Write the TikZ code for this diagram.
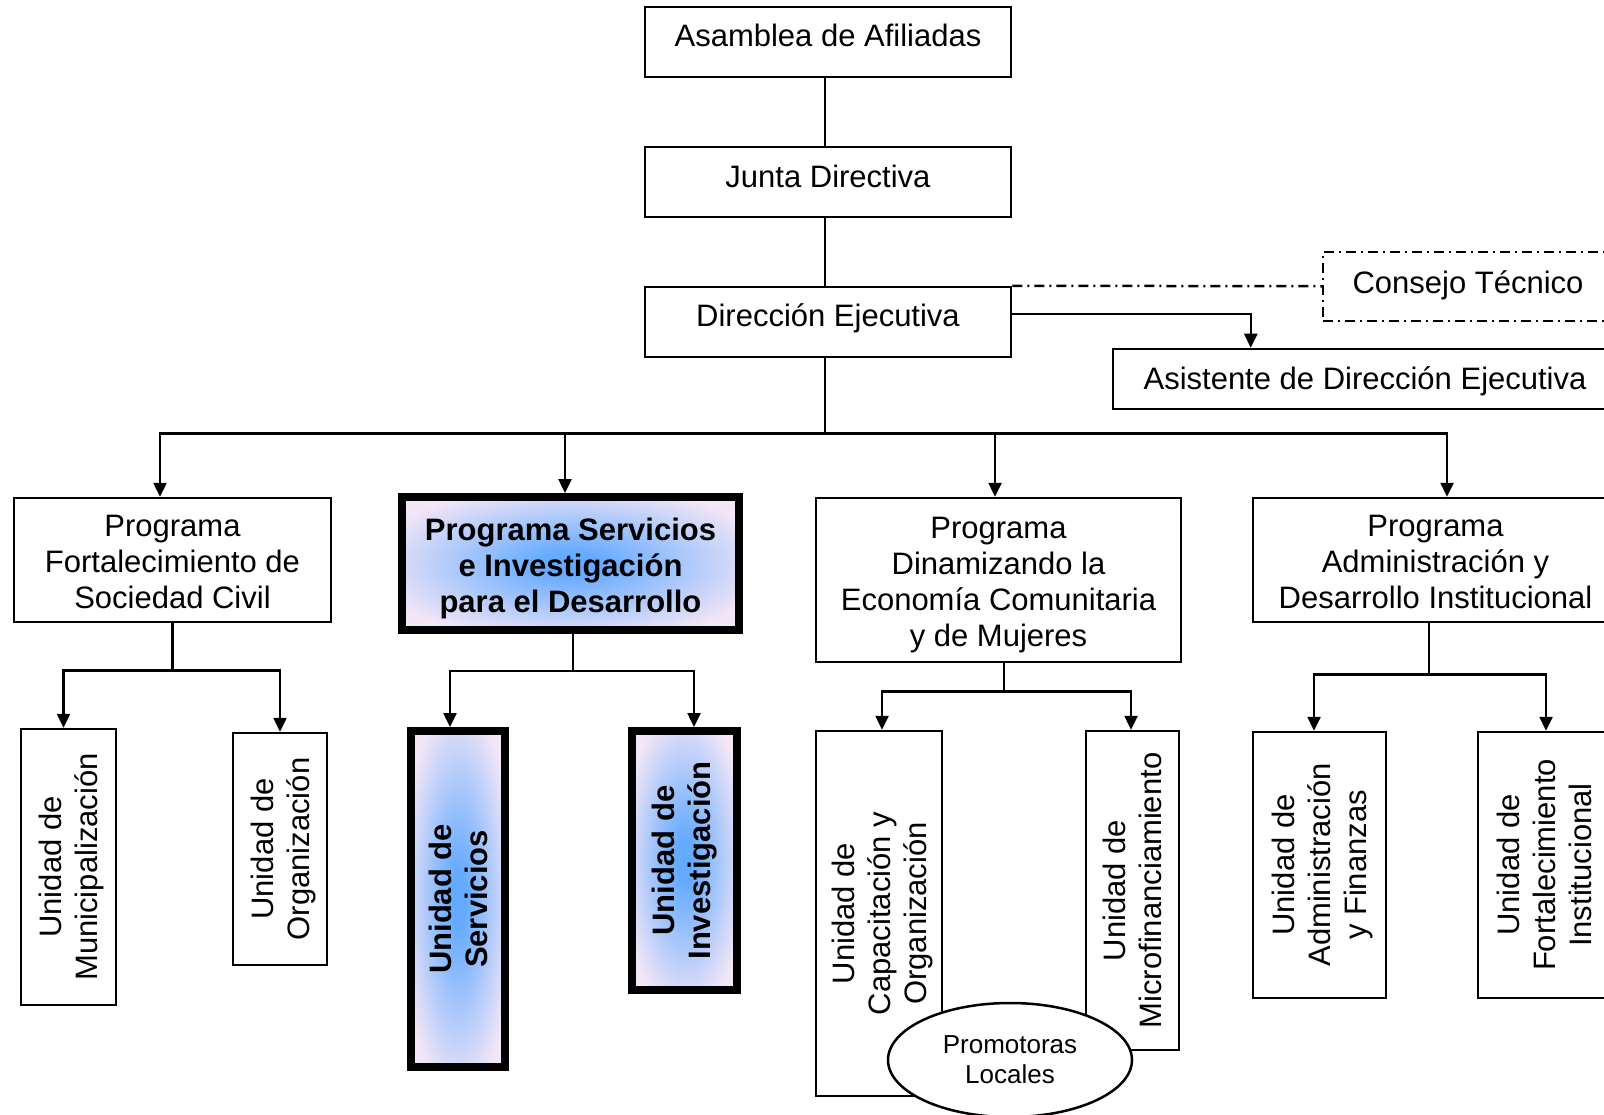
\documentclass[tikz,border=0pt]{standalone}
\usepackage{fontspec}
\setmainfont{Liberation Sans}
\usepackage{xcolor}
\usepackage{tikz}
\usetikzlibrary{arrows.meta}
\usetikzlibrary{shapes.geometric}
\definecolor{azulcentro}{RGB}{100,170,255}
\definecolor{lila}{RGB}{243,230,246}
\pgfdeclareradialshading{desdecentro}{\pgfpoint{0bp}{0bp}}{color(0bp)=(azulcentro); color(4bp)=(azulcentro); color(30bp)=(lila); color(50bp)=(lila)}
\newcommand{\lineas}[2][-5.5pt]{\raisebox{#1}[\height][\depth]{\begin{tabular}{@{}c@{}}#2\end{tabular}}}
\newcommand{\textovertical}[2][-4pt]{\rotatebox{90}{\lineas[#1]{#2}}}

\begin{document}
\begin{tikzpicture}[x=1pt, y=-1pt, every node/.style={font=\fontsize{31}{36}\selectfont, inner sep=0pt}, caja/.style={draw, line width=2.5pt, fill=white}, resaltada/.style={draw, line width=8pt, shading=desdecentro, font=\fontsize{31}{36}\selectfont\bfseries}, flecha/.style={line width=2.5pt, -{Triangle[length=14pt,width=13pt]}}, linea/.style={line width=2.5pt}, rayapunto/.style={dash pattern=on 10pt off 5pt on 2pt off 5pt}]
	\path[use as bounding box, clip] (0,0) rectangle (1604,1115);
	\node[caja, minimum width=366pt, minimum height=70pt](asam) at (828,42){\lineas[3pt]{Asamblea de Afiliadas}};
	\node[caja, minimum width=366pt, minimum height=70pt](junta) at (828,182){\lineas[2pt]{Junta Directiva}};
	\node[caja, minimum width=366pt, minimum height=70pt](dir) at (828,322){\lineas[3pt]{Dirección Ejecutiva}};
	\node[caja, rayapunto, minimum width=290pt, minimum height=69pt](cons) at (1468,286.5){\lineas[0pt]{Consejo Técnico}};
	\node[caja, minimum width=504pt, minimum height=60pt](asis) at (1365,379){\lineas[-3pt]{Asistente de Dirección Ejecutiva}};
	\node[caja, minimum width=317pt, minimum height=124pt](p1) at (172.5,560){\lineas{Programa\\Fortalecimiento de\\Sociedad Civil}};
	\node[resaltada, minimum width=337pt, minimum height=133pt](p2) at (570.5,563.5){\lineas{Programa Servicios\\e Investigación\\para el Desarrollo}};
	\node[caja, minimum width=365pt, minimum height=164pt](p3) at (998.5,580){\lineas{Programa\\Dinamizando la\\Economía Comunitaria\\y de Mujeres}};
	\node[caja, minimum width=365pt, minimum height=124pt](p4) at (1435.5,560){\lineas{Programa\\Administración y\\Desarrollo Institucional}};
	\node[caja, minimum width=95pt, minimum height=276pt](u1) at (68.5,867){\textovertical{Unidad de\\Municipalización}};
	\node[caja, minimum width=94pt, minimum height=232pt](u2) at (280,849){\textovertical{Unidad de\\Organización}};
	\node[resaltada, minimum width=94pt, minimum height=336pt](us) at (458,899){\textovertical{Unidad de\\Servicios}};
	\node[resaltada, minimum width=105pt, minimum height=259pt](ui) at (684.5,860.5){\textovertical[-1pt]{Unidad de\\Investigación}};
	\node[caja, minimum width=126pt, minimum height=365pt](uc) at (879,913.5){\textovertical{Unidad de\\Capacitación y\\Organización}};
	\node[caja, minimum width=93pt, minimum height=319pt](um) at (1132.5,890.5){\textovertical{Unidad de\\Microfinanciamiento}};
	\node[caja, minimum width=133pt, minimum height=266pt](ua) at (1319.5,865){\textovertical{Unidad de\\Administración\\y Finanzas}};
	\node[caja, minimum width=132pt, minimum height=266pt](uf) at (1544,865){\textovertical{Unidad de\\Fortalecimiento\\Institucional}};
	\node[caja, ellipse, minimum width=244pt, minimum height=114pt, font=\fontsize{26}{30}\selectfont](prom) at (1010,1060){\lineas[-2pt]{Promotoras\\Locales}};
	\draw[linea]([xshift=-3pt]asam.south)--([xshift=-3pt]junta.north);
	\draw[linea]([xshift=-3pt]junta.south)--([xshift=-3pt]dir.north);
	\draw[linea, rayapunto](dir.north east)--(cons);
	\draw[flecha]([yshift=8pt]dir.east)-|([xshift=139pt]asis.north west);
	\foreach \p/\d in {p1/-12.5,p2/-5.5,p3/-3.5,p4/11.5}
		\draw[flecha]([xshift=-3pt]dir.south)--++(0,75)-|([xshift=\d pt]\p.north);
	\foreach \u/\d in {u1/-5,u2/0}
		\draw[flecha](p1.south)--++(0,47)-|([xshift=\d pt]\u.north);
	\foreach \u/\d in {us/-8,ui/9.5}
		\draw[flecha]([xshift=2.5pt]p2.south)--++(0,37)-|([xshift=\d pt]\u.north);
	\foreach \u/\d in {uc/3,um/-1.5}
		\draw[flecha]([xshift=5.5pt]p3.south)--++(0,28)-|([xshift=\d pt]\u.north);
	\foreach \u/\d in {ua/-5.5,uf/2}
		\draw[flecha]([xshift=-6.5pt]p4.south)--++(0,51)-|([xshift=\d pt]\u.north);
\end{tikzpicture}
\end{document}
